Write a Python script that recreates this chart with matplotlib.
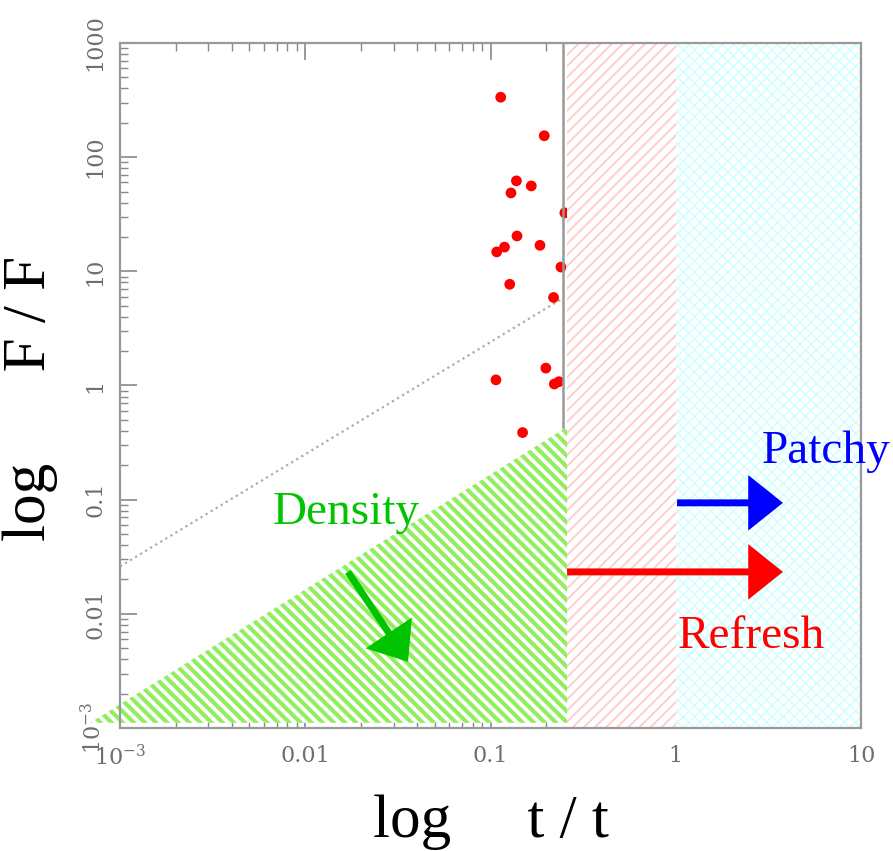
import matplotlib
matplotlib.use("Agg")
import matplotlib.pyplot as plt
from matplotlib.patches import Polygon, Rectangle, FancyArrowPatch, ArrowStyle

plt.rcParams['mathtext.fontset'] = 'dejavuserif'

# observed points (t / t_ref, F / F_ref)
t_pts = [0.1135, 0.195, 0.138, 0.166, 0.129, 0.252, 0.139, 0.185, 0.119,
         0.108, 0.240, 0.127, 0.219, 0.199, 0.107, 0.221, 0.234, 0.149]
f_pts = [335, 154, 62, 56, 48.6, 32.5, 20.4, 16.9, 16.3,
         14.8, 10.9, 7.7, 5.9, 1.42, 1.12, 1.03, 1.08, 0.387]

# dotted guide line
guide_t = [0.001, 0.245]
guide_f = [0.026, 5.8]

# regime boundaries
t_split = 0.259
t_one = 1.0
t_max = 10.0
dens_t = [6.9e-4, 0.259, 0.259]
dens_f = [1.11e-3, 0.434, 1.11e-3]

x_ticks = [1e-3, 1e-2, 1e-1, 1, 10]
x_labels = ['$10^{-3}$', '0.01', '0.1', '1', '10']
y_ticks = [1e-3, 1e-2, 1e-1, 1, 10, 100, 1000]
y_labels = ['$10^{-3}$', '0.01', '0.1', '1', '10', '100', '1000']

fig = plt.figure(figsize=(8.93, 8.51), dpi=100)
ax = fig.add_axes([120/893, 1-728/851, 741/893, 685/851])
ax.set_xscale('log')
ax.set_yscale('log')
ax.set_xlim(1e-3, 10)
ax.set_ylim(1e-3, 1e3)

ax.plot(guide_t, guide_f, ls=':', color='#aaaaaa', lw=1.6, zorder=1)
ax.scatter(t_pts, f_pts, s=60, color='red', edgecolor='none', zorder=2)

def hatch_patch(p, lw):
    if hasattr(p, 'set_hatch_linewidth'):
        p.set_hatch_linewidth(lw)
    ax.add_patch(p)

with plt.rc_context({'hatch.linewidth': 1.3}):
    pink = Rectangle((t_split, 1e-3), t_one - t_split, 1e3 - 1e-3,
                     facecolor='white', edgecolor='#ffcaca', hatch='///',
                     lw=0, zorder=3)
    hatch_patch(pink, 1.3)
    cyan = Rectangle((t_one, 1e-3), t_max - t_one, 1e3 - 1e-3,
                     facecolor='white', edgecolor='#ccffff', hatch='xxx',
                     lw=0, zorder=3)
    hatch_patch(cyan, 1.0)
with plt.rc_context({'hatch.linewidth': 3.0}):
    dens = Polygon(list(zip(dens_t, dens_f)), closed=True, facecolor='white',
                   edgecolor='#92ee5e', hatch='\\\\\\', lw=0, zorder=3,
                   clip_on=False)
    hatch_patch(dens, 3.0)

ax.plot([0.246, 0.246], [0.434, 1000], color='#999999', lw=1.8, zorder=4)

def arrow(p0, p1, c):
    a = FancyArrowPatch(p0, p1, arrowstyle=ArrowStyle.Simple(head_length=25, head_width=40, tail_width=5),
                        mutation_scale=1, color=c, lw=0, shrinkA=0, shrinkB=0, zorder=6)
    ax.add_patch(a)

arrow((0.0170, 0.0233), (0.0359, 0.0038), '#00c400')
arrow((0.259, 0.0233), (3.79, 0.0233), 'red')
arrow((1.016, 0.0938), (3.79, 0.0938), 'blue')

ax.text(0.2065, 0.2978, 'Density', transform=ax.transAxes, color='#00c400',
        fontsize=34, family='Liberation Serif', va='baseline', zorder=7)
ax.text(0.8664, 0.3869, 'Patchy', transform=ax.transAxes, color='blue',
        fontsize=34, family='Liberation Serif', va='baseline', zorder=7)
ax.text(0.753, 0.1168, 'Refresh', transform=ax.transAxes, color='red',
        fontsize=34, family='Liberation Serif', va='baseline', zorder=7)

for s in ax.spines.values():
    s.set_color('#999999')
    s.set_linewidth(1.6)
    s.set_zorder(5)

ax.set_xticks(x_ticks)
ax.set_xticklabels(x_labels)
ax.set_yticks(y_ticks)
ax.set_yticklabels(y_labels)
ax.tick_params(which='both', direction='in', top=True, right=True, color='#888888')
ax.tick_params(which='major', length=12, width=1.2)
ax.tick_params(which='minor', length=6, width=1.0)
ax.tick_params(axis='x', pad=12, labelsize=16, labelcolor='#6f6f6f')
ax.tick_params(axis='y', pad=10, labelsize=16, labelcolor='#6f6f6f', labelrotation=90)
for lab in ax.get_xticklabels() + ax.get_yticklabels():
    lab.set_family('DejaVu Serif')
for lab in ax.get_yticklabels():
    lab.set_va('center')

fig.text(491/893, 1-837/851, 'log     t / t', ha='center', va='baseline',
         fontsize=44, family='Liberation Serif')
fig.text(30/893, 1-398/851, 'log      F / F', ha='center', va='center',
         rotation=90, fontsize=44, family='Liberation Serif')

fig.savefig('out.png', dpi=100)
